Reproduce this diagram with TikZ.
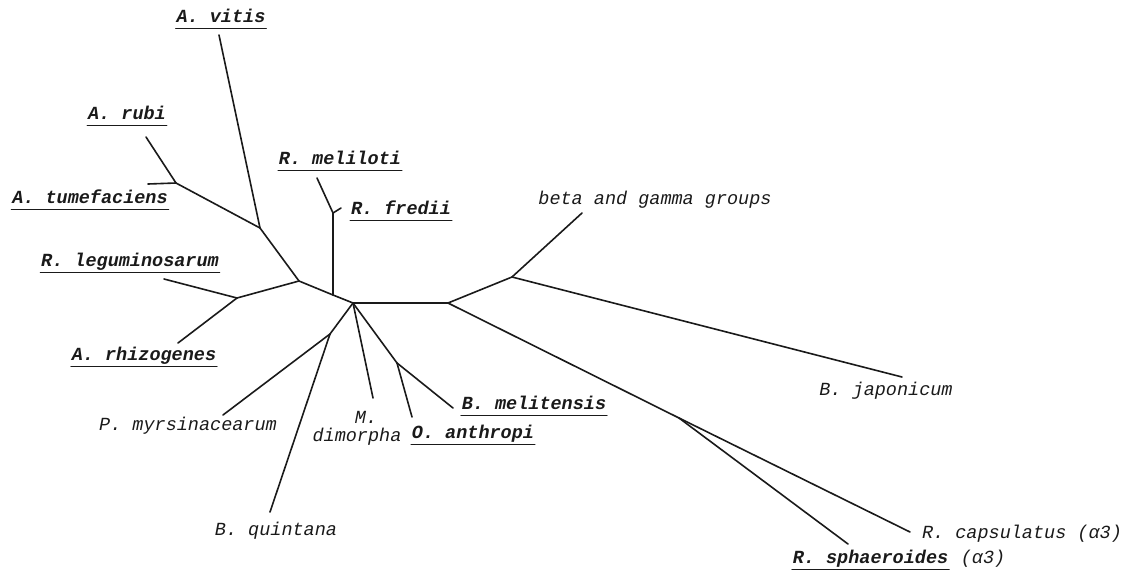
\documentclass[tikz,border=0pt]{standalone}
\usepackage{fontspec}
\setmonofont{Liberation Mono}
\usetikzlibrary{positioning}
\definecolor{treeink}{HTML}{1A1A1A}
\tikzset{every node/.append style={inner sep=0pt,text=treeink},
  taxon/.style={anchor=base,font=\ttfamily\fontsize{18.5}{20}\selectfont\itshape},
  typed/.style={anchor=base,font=\ttfamily\fontsize{18.5}{20}\selectfont\bfseries\itshape},
  uline/.style={typed,
    append after command={([yshift=-6.5pt]\tikzlastnode.base west) edge[line width=1.5pt]
      ([yshift=-6.5pt]\tikzlastnode.base east)}}}

\begin{document}
\begin{tikzpicture}[x=1pt,y=-1pt,line width=1.6pt,treeink,line cap=round]
  \useasboundingbox (0,0) rectangle (1128,571);
  % branch points
  \coordinate (c0) at (353,303);
  \coordinate (n1) at (333,295);
  \coordinate (n2) at (333,213);
  \coordinate (n3) at (299,281);
  \coordinate (n4) at (260,228);
  \coordinate (n5) at (176,183);
  \coordinate (n6) at (237,298);
  \coordinate (n7) at (448,303);
  \coordinate (n8) at (512,277);
  \coordinate (n9) at (679,418);
  \coordinate (n10) at (397,363);
  \coordinate (n11) at (330,334);
  % leaf ends
  \coordinate (vitis) at (219,35);
  \coordinate (rubi) at (146,137);
  \coordinate (tumef) at (148,184);
  \coordinate (legum) at (164,279);
  \coordinate (rhizo) at (178,343);
  \coordinate (melil) at (317,178);
  \coordinate (fredii) at (341,208);
  \coordinate (beta) at (582,213);
  \coordinate (japon) at (902,377);
  \coordinate (capsul) at (910,532);
  \coordinate (sphaer) at (848,544);
  \coordinate (melit) at (453,408);
  \coordinate (anthr) at (412,417);
  \coordinate (dimor) at (373,398);
  \coordinate (myrsi) at (223,415);
  \coordinate (quint) at (270,512);
  % branches
  \foreach \a/\b in {c0/n1,n1/n2,n2/melil,n2/fredii,n1/n3,n3/n4,n4/vitis,n4/n5,
      n5/rubi,n5/tumef,n3/n6,n6/legum,n6/rhizo,c0/n7,n7/n8,n8/beta,n8/japon,
      n7/n9,n9/capsul,n9/sphaer,c0/n10,n10/melit,n10/anthr,c0/dimor,
      c0/n11,n11/myrsi,n11/quint}
    \draw (\a) -- (\b);
  % labels
  \node[uline] (Lvitis) at (221,22) {A. vitis};
  \node[uline] (Lrubi) at (127,119) {A. rubi};
  \node[uline] (Ltumef) at (90,203) {A. tumefaciens};
  \node[uline] (Lmelil) at (340,164) {R. meliloti};
  \node[uline] (Lfredii) at (401,214) {R. fredii};
  \node[uline] (Llegum) at (130,266) {R. leguminosarum};
  \node[uline] (Lrhizo) at (144,360) {A. rhizogenes};
  \node[taxon] (Lbeta) at (655,204) {beta and gamma groups};
  \node[taxon] (Ljapon) at (886,395) {B. japonicum};
  \node[uline] (Lmelit) at (534,409) {B. melitensis};
  \node[uline] (Lanthr) at (473,438) {O. anthropi};
  \node[taxon] (Ldimor1) at (366,423) {M.};
  \node[taxon] (Ldimor2) at (357,441) {dimorpha};
  \node[taxon] (Lmyrsi) at (188,430) {P. myrsinacearum};
  \node[taxon] (Lquint) at (276,535) {B. quintana};
  \node[taxon] (Lcapsul) at (1022,538) {R. capsulatus (α3)};
  \node[uline,anchor=base west] (Lsphaer) at (792,563) {R. sphaeroides};
  \node[taxon,right=11pt of Lsphaer.base east,anchor=base west] (Lsphaer3) {(α3)};
\end{tikzpicture}
\end{document}
